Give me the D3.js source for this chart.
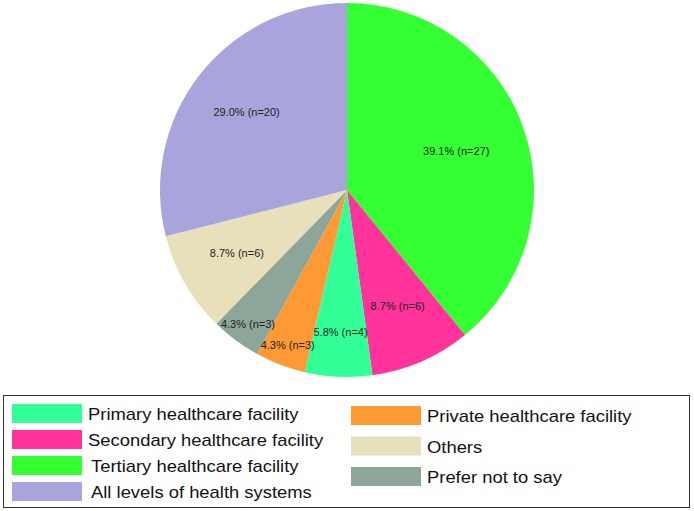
<!DOCTYPE html>
<html>
<head>
<meta charset="utf-8">
<script src="https://cdn.jsdelivr.net/npm/d3@7"></script>
<style>
  body { margin: 0; background: #fff; }
  svg { display: block; font-family: "Liberation Sans", Arial, Helvetica, sans-serif; }
</style>
</head>
<body>
<svg id="chart"></svg>
<script>
const global_width = 694,
  global_height = 511;

// slices, clockwise from 12 o'clock
const categories = [
  'Tertiary healthcare facility',
  'Secondary healthcare facility',
  'Primary healthcare facility',
  'Private healthcare facility',
  'Prefer not to say',
  'Others',
  'All levels of health systems'
];
const counts = [27, 6, 4, 3, 3, 6, 20];
const colors = ['#33ff33', '#ff3399', '#33ff99', '#ff9933', '#8ea699', '#e8e0ba', '#a9a4db'];

// legend columns
const legendLeft = [
  'Primary healthcare facility',
  'Secondary healthcare facility',
  'Tertiary healthcare facility',
  'All levels of health systems'
];
const legendRight = [
  'Private healthcare facility',
  'Others',
  'Prefer not to say'
];

const cx = 347, cy = 190, radius = 187;

const svg = d3.select('svg#chart')
  .attr('width', global_width)
  .attr('height', global_height);

const total = d3.sum(counts);
const data = categories.map((c, i) => ({name: c, n: counts[i], color: colors[i]}));

const pie = d3.pie()
  .sort(null)
  .value(d => d.n);

const arc = d3.arc()
  .innerRadius(0)
  .outerRadius(radius);

const plot = svg.append('g')
  .attr('transform', `translate(${cx},${cy})`);

const arcs = pie(data);

plot.selectAll('path')
  .data(arcs)
  .enter()
  .append('path')
  .attr('d', arc)
  .attr('fill', d => d.data.color);

// narrow slices get their labels pushed outward
const labelRadius = d => {
  const f = d.data.n / total;
  if (f > 0.3) return radius * 0.62;
  if (f > 0.08) return radius * 0.68;
  if (f > 0.05) return radius * 0.76;
  return radius * 0.89;
};

plot.selectAll('text.lbl')
  .data(arcs)
  .enter()
  .append('text')
  .attr('class', 'lbl')
  .attr('x', d => Math.sin((d.startAngle + d.endAngle) / 2) * labelRadius(d))
  .attr('y', d => -Math.cos((d.startAngle + d.endAngle) / 2) * labelRadius(d))
  .attr('dy', '0.35em')
  .attr('text-anchor', 'middle')
  .attr('font-size', 11)
  .attr('fill', '#222')
  .text(d => (d.data.n / total * 100).toFixed(1) + '% (n=' + d.data.n + ')');

// Legend
const legend = svg.append('g').attr('id', 'legend');

legend.append('rect')
  .attr('x', 3.5)
  .attr('y', 395.5)
  .attr('width', 686)
  .attr('height', 112)
  .attr('fill', 'none')
  .attr('stroke', '#333')
  .attr('stroke-width', 1);

const colorOf = name => colors[categories.indexOf(name)];

const addColumn = (names, x0, y0, step) => {
  const g = legend.append('g');
  names.forEach((name, i) => {
    const y = y0 + i * step;
    g.append('rect')
      .attr('x', x0)
      .attr('y', y)
      .attr('width', 70)
      .attr('height', 19)
      .attr('fill', colorOf(name));
    g.append('text')
      .attr('transform', `translate(${x0 + 76 + (i > 1 && x0 < 100 ? 3 : 0)},${y + 16}) scale(1.15,1)`)
      .attr('font-size', 16)
      .attr('fill', '#111')
      .text(name);
  });
};

addColumn(legendLeft, 12, 404, 26);
addColumn(legendRight, 351, 406, 30.5);
</script>
</body>
</html>
